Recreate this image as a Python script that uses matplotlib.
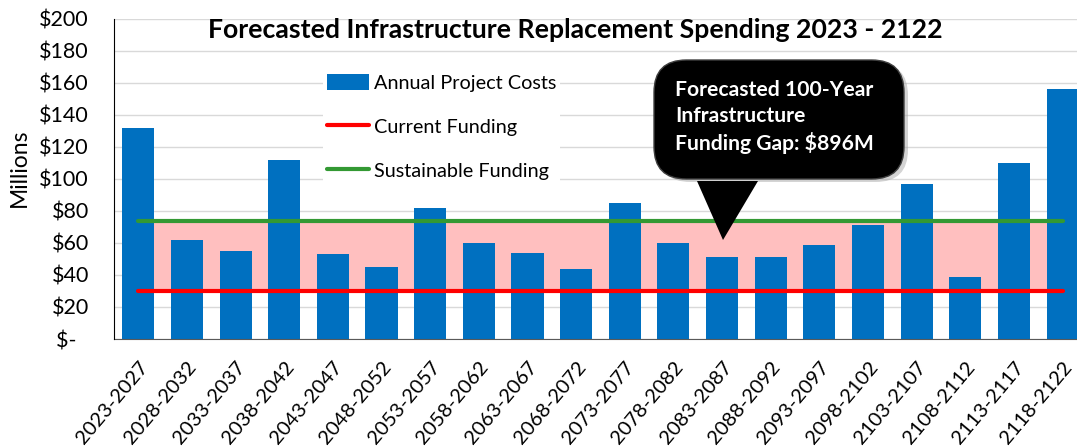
import numpy as np
import matplotlib
matplotlib.use('Agg')
import matplotlib.pyplot as plt
from matplotlib.patches import FancyBboxPatch, Polygon, Patch
from matplotlib.lines import Line2D

plt.rcParams['font.family'] = ['Lato', 'DejaVu Sans']

periods = ['2023-2027', '2028-2032', '2033-2037', '2038-2042', '2043-2047',
           '2048-2052', '2053-2057', '2058-2062', '2063-2067', '2068-2072',
           '2073-2077', '2078-2082', '2083-2087', '2088-2092', '2093-2097',
           '2098-2102', '2103-2107', '2108-2112', '2113-2117', '2118-2122']
project_costs = [132, 62, 55, 112, 53, 45, 82, 60, 54, 44,
                 85, 60, 51, 51, 59, 71, 97, 39, 110, 156]
current_funding = 30
sustainable_funding = 74
yticks = [0, 20, 40, 60, 80, 100, 120, 140, 160, 180, 200]
ytick_labels = ['$-\u2007', '$20', '$40', '$60', '$80', '$100', '$120', '$140',
                '$160', '$180', '$200']

fig = plt.figure(figsize=(10.77, 4.47), dpi=100)
ax = fig.add_axes([0.1058, 0.2416, 0.9034, 0.716])

x = np.arange(len(periods))

# gap band between current and sustainable funding
ax.fill_between([x[0], x[-1]], current_funding, sustainable_funding,
                color='#FFBFBF', zorder=1, linewidth=0)
ax.bar(x, project_costs, width=0.66, color='#0070C0', zorder=2)
ax.plot([x[0], x[-1]], [current_funding] * 2, color='#FF0000', lw=3,
        solid_capstyle='round', zorder=3)
ax.plot([x[0], x[-1]], [sustainable_funding] * 2, color='#339933', lw=3,
        solid_capstyle='round', zorder=3)

ax.set_xlim(-0.5, len(periods) - 0.5)
ax.set_ylim(0, 200)
ax.set_yticks(yticks)
ax.set_yticklabels(ytick_labels, fontsize=15.5)
ax.set_xticks(x)
ax.set_xticklabels(periods, rotation=50, ha='right', rotation_mode='anchor',
                   fontsize=14.5)
ax.tick_params(length=0)
ax.tick_params(axis='y', pad=18)
ax.tick_params(axis='x', pad=14)
ax.yaxis.grid(True, color='#D9D9D9', lw=1)
ax.set_axisbelow(True)
for s in ['top', 'right']:
    ax.spines[s].set_visible(False)
ax.spines['left'].set_color('#000000')
ax.spines['bottom'].set_color('#595959')
ax.spines['left'].set_zorder(5)
ax.set_ylabel('Millions', fontsize=16.5)
ax.yaxis.set_label_coords(-0.086, 0.535)

fig.text(0.534, 0.933, 'Forecasted Infrastructure Replacement Spending 2023 - 2122',
         ha='center', va='center', fontsize=19.2, fontweight='bold')

handles = [Patch(facecolor='#0070C0'),
           Line2D([0], [0], color='#FF0000', lw=3, solid_capstyle='round'),
           Line2D([0], [0], color='#339933', lw=3, solid_capstyle='round')]
leg = ax.legend(handles, ['Annual Project Costs', 'Current Funding', 'Sustainable Funding'],
                loc='upper left', bbox_to_anchor=(0.205, 0.872), frameon=True,
                facecolor='white', edgecolor='none', framealpha=1,
                fontsize=14.3, labelspacing=1.3, handlelength=2.1,
                handleheight=0.9, handletextpad=0.25, borderpad=0.2,
                fancybox=False)
leg.set_zorder(6)

# callout box with pointer
trans = fig.transFigure
W, H = 1077.0, 447.0
shadow = FancyBboxPatch((658 / W, (H - 182) / H), 250 / W, 119 / H,
                        boxstyle='round,pad=0,rounding_size=0.03',
                        transform=trans, facecolor='#A0A0A0', alpha=0.45,
                        edgecolor='none', zorder=9, mutation_aspect=W / H)
fig.patches.append(shadow)
box = FancyBboxPatch((654 / W, (H - 179) / H), 250 / W, 119 / H,
                     boxstyle='round,pad=0,rounding_size=0.03',
                     transform=trans, facecolor='#000000',
                     edgecolor='#404040', lw=1, zorder=10, mutation_aspect=W / H)
fig.patches.append(box)
tri = Polygon([(697 / W, (H - 181) / H), (758 / W, (H - 181) / H),
               (723 / W, (H - 240) / H)], closed=True, transform=trans,
              facecolor='#000000', edgecolor='none', zorder=10)
fig.patches.append(tri)
fig.text(675 / W, (H - 117) / H,
         'Forecasted 100-Year\nInfrastructure\nFunding Gap: $896M',
         color='white', fontsize=15.2, fontweight='bold', ha='left', va='center',
         linespacing=1.35, zorder=11)

fig.savefig('out.png', dpi=100)
